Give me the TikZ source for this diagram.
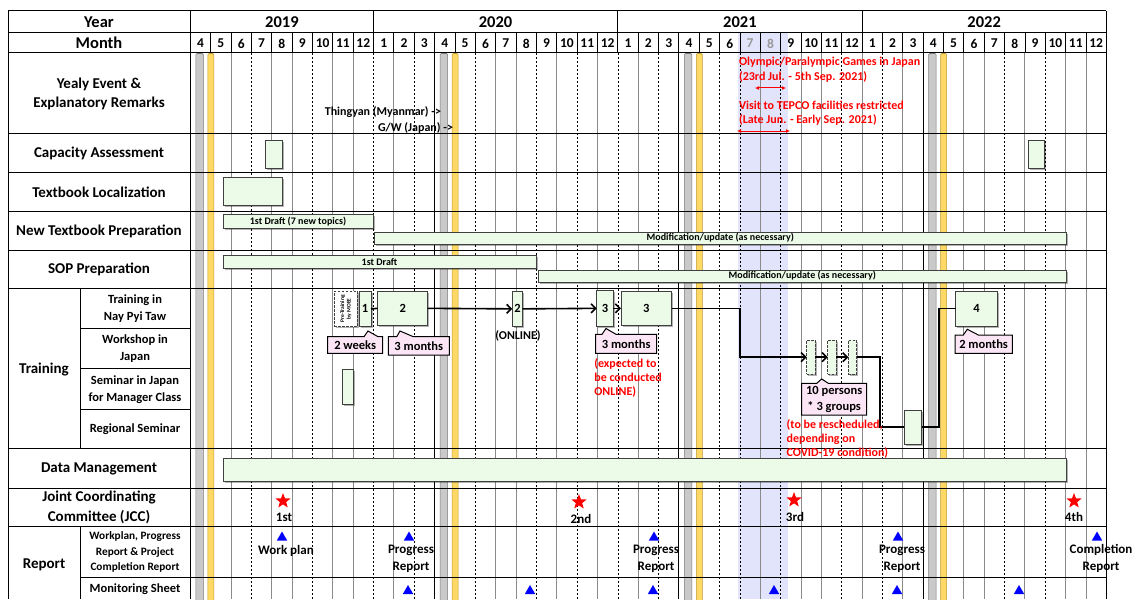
\documentclass[tikz,border=0pt]{standalone}
\usepackage{fontspec}
\setmainfont{Carlito}
\usetikzlibrary{arrows.meta,shadows,shapes.geometric}
\definecolor{boxgreen}{HTML}{EBFBE8}
\definecolor{bandgray}{HTML}{C9C9C9}
\definecolor{bandgrayd}{HTML}{7A7A7A}
\definecolor{bandyellow}{HTML}{FFD966}
\definecolor{bandyellowd}{HTML}{C39A2E}
\definecolor{shadeblue}{HTML}{E1E4FA}
\definecolor{calloutpink}{HTML}{FCE6F6}
\definecolor{gridgray}{HTML}{8A8A8A}
\definecolor{redtxt}{HTML}{FF0000}
\definecolor{trblue}{HTML}{0000FF}
\begin{document}
\begin{tikzpicture}[x=1pt,y=-1pt,
  every node/.style={inner sep=0pt,outer sep=0pt},
  tyear/.style={font=\bfseries\fontsize{16.5}{18}\selectfont},
  tmonth/.style={font=\bfseries\fontsize{13.5}{14}\selectfont},
  tlab/.style={font=\bfseries\fontsize{15}{19.5}\selectfont,align=center},
  tsub/.style={font=\bfseries\fontsize{12.5}{16.5}\selectfont,align=center},
  tsmall/.style={font=\bfseries\fontsize{11.3}{15.5}\selectfont,align=center},
  tbar/.style={font=\bfseries\fontsize{10}{11}\selectfont},
  tred/.style={font=\bfseries\fontsize{12}{14}\selectfont,text=redtxt,align=left},
  tev/.style={font=\bfseries\fontsize{12}{13}\selectfont},
  tnum/.style={font=\bfseries\fontsize{12.5}{13}\selectfont},
  tcall/.style={font=\bfseries\fontsize{12.5}{16}\selectfont,align=center},
  trep/.style={font=\bfseries\fontsize{13}{17}\selectfont,align=center},
  gbox/.style={draw=black!75,fill=boxgreen,line width=0.9pt,
     drop shadow={shadow xshift=1.5pt,shadow yshift=-1.5pt,opacity=0.3,fill=black}},
  dbox/.style={gbox,dash pattern=on 2.5pt off 1.5pt},
  callout/.style={draw=black,fill=calloutpink,line width=1pt,line join=miter},
  conn/.style={draw=black,line width=1.6pt},
  arr/.style={conn,-{Straight Barb[length=4.5pt,width=9pt]}},
  redarr/.style={draw=redtxt,line width=1pt,{Latex[length=4pt,width=4pt]}-{Latex[length=4pt,width=4pt]}},
  gridsolid/.style={draw=gridgray,line width=0.9pt},
  griddash/.style={draw=black,line width=0.5pt,dash pattern=on 2pt off 2pt},
  gridapr/.style={draw=black,line width=1pt},
  frame/.style={draw=black,line width=1pt},
  star5/.style={star,star points=5,star point ratio=2.4,minimum size=16pt,fill=redtxt},
  tri/.style={regular polygon,regular polygon sides=3,minimum size=12pt,fill=trblue},
]
\useasboundingbox (0,0) rectangle (1139,599);
% --- shaded Olympic period
\fill[shadeblue] (738,33) rectangle (788,599);
% --- body grid lines
\foreach \i in {1,2,4,5,7,8,10,13,15,16,18,20,22,25,28,30,31,33,35,37,38,39,41,43,44}{
  \pgfmathsetmacro\xx{190.3+20.356*\i}
  \draw[gridsolid] (\xx,53) -- (\xx,599);
}
\foreach \i in {3,6,9,11,14,17,19,21,23,26,27,29,32,34,40,42}{
  \pgfmathsetmacro\xx{190.3+20.356*\i}
  \draw[griddash] (\xx,53) -- (\xx,599);
}
\foreach \i in {12,24,36}{
  \pgfmathsetmacro\xx{190.3+20.356*\i}
  \draw[gridapr] (\xx,53) -- (\xx,599);
}
% --- Thingyan / Golden Week bands
\foreach \k in {0,12,24,36}{
  \pgfmathsetmacro\xa{190.3+20.356*\k}
  \draw[draw=bandgrayd,fill=bandgray,line width=0.6pt,rounded corners=1.2pt] (\xa+5.5,53.5) rectangle (\xa+13,602);
  \draw[draw=bandyellowd,fill=bandyellow,line width=0.6pt,rounded corners=1.2pt] (\xa+17.5,53.5) rectangle (\xa+23.5,602);
}
% --- header separators
\foreach \i in {1,...,44}{
  \pgfmathsetmacro\xx{190.3+20.356*\i}
  \draw[draw=black,line width=0.8pt] (\xx,33) -- (\xx,53);
}
\foreach \i in {9,21,33}{
  \pgfmathsetmacro\xx{190.3+20.356*\i}
  \draw[frame] (\xx,11) -- (\xx,33);
}
% --- horizontal lines
\foreach \yy in {11,33,53,133.5,172.5,211,250,288.5,448.5,488,526}{
  \draw[frame] (8,\yy) -- (1106.3,\yy);
}
\foreach \yy in {328,368.5,409}{
  \draw[frame] (80,\yy) -- (190.3,\yy);
}
\draw[frame] (80,577) -- (1106.3,577);
% --- vertical frame lines
\draw[frame] (8,11) -- (8,599);
\draw[frame] (190.3,11) -- (190.3,599);
\draw[frame] (1106.3,11) -- (1106.3,599);
\draw[frame] (80,288.5) -- (80,448.5);
\draw[frame] (80,526) -- (80,599);
% --- header texts
\node[tyear] (hyear) at (99,22) {Year};
\node[tyear] (hmonth) at (99,43) {Month};
\node[tyear] (y2019) at (281.9,22) {2019};
\node[tyear] (y2020) at (495.6,22) {2020};
\node[tyear] (y2021) at (739.9,22) {2021};
\node[tyear] (y2022) at (984.2,22) {2022};
\foreach \i in {0,...,44}{
  \pgfmathtruncatemacro\m{mod(\i+3,12)+1}
  \pgfmathsetmacro\xc{190.3+20.356*(\i+0.5)}
  \ifnum\i=27 \def\mc{black!40}\else\ifnum\i=28 \def\mc{black!40}\else\def\mc{black}\fi\fi
  \node[tmonth,text=\mc] (m\i) at (\xc,43.5) {\m};
}
% --- row labels
\node[tlab] (lev) at (99,94) {Yealy Event \&\\Explanatory Remarks};
\node[tlab] (lcap) at (99,153.5) {Capacity Assessment};
\node[tlab] (lloc) at (99,192.5) {Textbook Localization};
\node[tlab] (lntp) at (99,231) {New Textbook Preparation};
\node[tlab] (lsop) at (99,269.5) {SOP Preparation};
\node[tlab] (ltr) at (44,369.5) {Training};
\node[tsub] (ltr1) at (135,308.5) {Training in\\Nay Pyi Taw};
\node[tsub] (ltr2) at (135,348.5) {Workshop in\\Japan};
\node[tsub] (ltr3) at (135,389.5) {Seminar in Japan\\for Manager Class};
\node[tsub] (ltr4) at (135,429.5) {Regional Seminar};
\node[tlab] (ldata) at (99,469) {Data Management};
\node[tlab] (ljcc) at (99,507.5) {Joint Coordinating\\Committee (JCC)};
\node[tlab] (lrep) at (44,564.5) {Report};
\node[tsmall] (lrep1) at (135,552) {Workplan, Progress\\Report \& Project\\Completion Report};
\node[tsub] (lrep2) at (135,589) {Monitoring Sheet};
% --- yearly events
\node[tev,anchor=east] (thing) at (441,112) {Thingyan (Myanmar) ->};
\node[tev,anchor=east] (gw) at (453,128) {G/W (Japan) ->};
\node[tred,anchor=west] (oly1) at (739,62) {Olympic/Paralympic Games in Japan};
\node[tred,anchor=west] (oly2) at (739,77) {(23rd Jul. - 5th Sep. 2021)};
\coordinate (olyA) at (755,88);
\coordinate (olyB) at (786,88);
\draw[redarr] (olyA) -- (olyB);
\node[tred,anchor=west] (tep1) at (739,105) {Visit to TEPCO facilities restricted};
\node[tred,anchor=west] (tep2) at (739,120) {(Late Jun. - Early Sep. 2021)};
\coordinate (tepA) at (737,131);
\coordinate (tepB) at (790,131);
\draw[redarr] (tepA) -- (tepB);
% --- capacity / textbook / SOP / data bars
\node[gbox,minimum width=17pt,minimum height=28pt] (capA) at (273.5,154) {};
\node[gbox,minimum width=16pt,minimum height=28pt] (capB) at (1036,154) {};
\node[gbox,minimum width=59pt,minimum height=28pt] (loc) at (252.5,191) {};
\node[gbox,tbar,minimum width=150pt,minimum height=14pt] (ntp1) at (298,221.5) {1st Draft (7 new topics)};
\node[gbox,tbar,minimum width=691.5pt,minimum height=12pt] (ntp2) at (720.25,238) {Modification/update (as necessary)};
\node[gbox,tbar,minimum width=313pt,minimum height=13pt] (sop1) at (379.5,262) {1st Draft};
\node[gbox,tbar,minimum width=527.5pt,minimum height=12pt] (sop2) at (802.25,276) {Modification/update (as necessary)};
\node[gbox,minimum width=843pt,minimum height=23pt] (data) at (644.5,469.5) {};
% --- training boxes
\node[gbox,dash pattern=on 2.5pt off 1.5pt,fill=white,minimum width=23pt,minimum height=35.7pt] (pre) at (345.8,308.85) {};
\node[rotate=90,align=center,font=\bfseries\fontsize{5.5}{6.5}\selectfont] (pretxt) at (pre.center) {Pre-Training\\by MOEE};
\node[gbox,tnum,minimum width=11.7pt,minimum height=35.7pt] (b1) at (365.15,308.85) {1};
\node[gbox,tnum,minimum width=50pt,minimum height=34.7pt] (b2) at (402.7,308.35) {2};
\node[gbox,tnum,minimum width=10.4pt,minimum height=35.7pt] (b2o) at (517.5,308.85) {2};
\node[tev] (onl) at (518,335.5) {(ONLINE)};
\node[gbox,tnum,minimum width=16.6pt,minimum height=36.7pt] (b3s) at (605,308.35) {3};
\node[gbox,tnum,minimum width=50.7pt,minimum height=34.7pt] (b3) at (646.35,308.35) {3};
\node[gbox,minimum width=10.6pt,minimum height=35.3pt] (sem) at (348,386.65) {};
\node[dbox,minimum width=8.3pt,minimum height=34.3pt] (d1) at (810.85,357.15) {};
\node[dbox,minimum width=8.3pt,minimum height=34.3pt] (d2) at (831.85,357.15) {};
\node[dbox,minimum width=8.3pt,minimum height=34.3pt] (d3) at (852.5,357.15) {};
\node[gbox,minimum width=17.7pt,minimum height=34.3pt] (reg) at (912.85,427.15) {};
\node[gbox,tnum,minimum width=41.6pt,minimum height=35pt] (b4) at (976.5,308.5) {4};
% --- connectors
\coordinate (k1) at (740,0);
\coordinate (k2) at (880,0);
\coordinate (k3) at (939,0);
\draw[conn] (b1.east) -- (b2.west);
\draw[arr] (b2.east) -- (b2o.west);
\draw[arr] (b2o.east) -- (b3s.west);
\draw[arr] (b3s.east) -- (b3.west);
\draw[arr] (b3.east) -- (b3.east -| k1) |- (d1.west);
\draw[arr] (d1.east) -- (d2.west);
\draw[arr] (d2.east) -- (d3.west);
\draw[conn] (d3.east) -- (d3.east -| k2) |- (reg.west);
\draw[conn] (reg.east) -- (reg.east -| k3) |- (b4.west);
% --- callouts
\newcommand\mycallout[8]{\draw[callout] (#1,#2) -- (#5,#2) -- (#6,#7) -- (#8,#2) -- (#3,#2) -- (#3,#4) -- (#1,#4) -- cycle;}
\mycallout{327.7}{336.7}{382.7}{353.3}{364}{368}{331}{378}
\node[tcall] (c1) at (355.2,345) {2 weeks};
\mycallout{388.3}{336.7}{449.3}{355}{396.7}{400}{331}{413.3}
\node[tcall] (c2) at (418.8,345.8) {3 months};
\mycallout{595.7}{334.3}{656.7}{353.3}{602}{606}{328.5}{616}
\node[tcall] (c3) at (626.2,343.8) {3 months};
\mycallout{801.7}{383.3}{866.7}{415}{816.7}{821.7}{379}{828.3}
\node[tcall] (c4) at (834.2,399.2) {10 persons\\* 3 groups};
\mycallout{955}{335}{1012.3}{353.3}{963.3}{967.3}{329.3}{978.3}
\node[tcall] (c5) at (983.6,344.2) {2 months};
% --- red notes
\node[tred,anchor=west] (note1) at (594.3,378) {(expected to\\be conducted\\ONLINE)};
\node[tred,anchor=west] (note2) at (786.7,438.5) {(to be rescheduled,\\depending on\\COVID-19 condition)};
% --- JCC
\node[star5] (s1) at (283,501) {};
\node[star5] (s2) at (579,502) {};
\node[star5] (s3) at (794,500) {};
\node[star5] (s4) at (1074,501) {};
\node[trep] (j1) at (284,517.5) {1st};
\node[trep] (j2) at (581,518.5) {2nd};
\node[trep] (j3) at (795,516.5) {3rd};
\node[trep] (j4) at (1074,516.5) {4th};
% --- reports
\node[tri] (r1) at (282,537.5) {};
\node[tri] (r2) at (409,537.5) {};
\node[tri] (r3) at (654,537.5) {};
\node[tri] (r4) at (898,537.5) {};
\node[tri] (r5) at (1097,537.5) {};
\node[trep] (rt1) at (286,550.5) {Work plan};
\node[trep] (rt2) at (411,558.5) {Progress\\Report};
\node[trep] (rt3) at (656,558.5) {Progress\\Report};
\node[trep] (rt4) at (902,558.5) {Progress\\Report};
\node[trep] (rt5) at (1101,558.5) {Completion\\Report};
\foreach \xm/\nm in {408/ms1,530/ms2,653/ms3,774/ms4,897/ms5,1019/ms6}{
  \node[tri] (\nm) at (\xm,591) {};
}
\end{tikzpicture}
\end{document}
